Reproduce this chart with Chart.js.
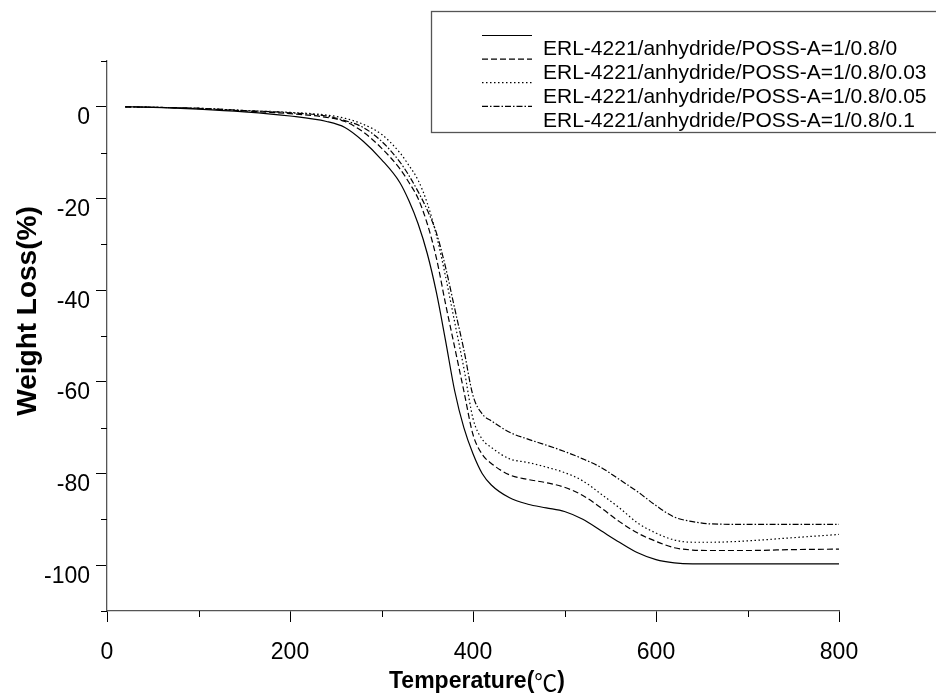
<!DOCTYPE html>
<html>
<head>
<meta charset="utf-8">
<title>TGA</title>
<script src="https://cdn.jsdelivr.net/npm/chart.js@4.4.1/dist/chart.umd.min.js"></script>
<style>
    html, body { margin: 0; padding: 0; background: #fff; }
    #wrap { width: 936px; height: 697px; position: relative; }
</style>
</head>
<body>
<div id="wrap"><canvas id="tgaChart"></canvas></div>
<script>
// 温度 (℃)
const temps = [20, 50, 100, 150, 200, 240, 260, 280, 300, 320, 330, 340, 350, 360, 370, 380, 390, 400, 410, 420,
               440, 460, 480, 500, 520, 540, 560, 580, 600, 620, 640, 660, 700, 750, 800];

// weight loss (%) per sample
const loss0 = [0, -0.1, -0.5, -1.1, -2, -3.2, -4.5, -7.5, -11.5, -16.5, -20.5, -25.5, -32, -40.5, -51, -62, -70, -75.7, -80, -82.5,
               -85.3, -86.7, -87.5, -88.3, -90, -92.5, -95, -97.3, -98.8, -99.5, -99.7, -99.7, -99.7, -99.7, -99.7];
const loss003 = [0, -0.1, -0.4, -0.9, -1.5, -2.3, -3.2, -5.5, -9, -13.5, -16.5, -20, -25.5, -33, -43, -52.5, -62, -71.5, -75.8, -77.8,
                 -80.3, -81.3, -82, -83, -84.8, -87.5, -90.5, -93, -94.8, -96.2, -96.7, -96.8, -96.8, -96.6, -96.5];
const loss005 = [0, -0.1, -0.3, -0.8, -1.2, -1.8, -2.5, -3.8, -6, -10, -12.8, -16, -21, -28, -37, -47, -57, -68, -72.5, -74.3,
                 -76.8, -77.6, -78.6, -79.8, -81.6, -84.5, -87.5, -90.8, -93, -94.5, -95, -95, -94.7, -94, -93.3];
const loss01 = [0, -0.1, -0.3, -0.8, -1.3, -2, -3, -4.5, -7.5, -12, -15, -18.5, -22.5, -27.5, -35, -44, -53, -63, -67, -68.5,
                -71, -72.5, -73.8, -75.2, -76.8, -78.7, -81.3, -84, -87, -89.5, -90.5, -91, -91.1, -91.1, -91.1];

const seriesLabels = [
    'ERL-4221/anhydride/POSS-A=1/0.8/0',
    'ERL-4221/anhydride/POSS-A=1/0.8/0.03',
    'ERL-4221/anhydride/POSS-A=1/0.8/0.05',
    'ERL-4221/anhydride/POSS-A=1/0.8/0.1'
];

// 刻度
const xTicks = [0, 200, 400, 600, 800];
const xMinorTicks = [100, 300, 500, 700];
const yTicks = [0, -20, -40, -60, -80, -100];
const yMinorTicks = [10, -10, -30, -50, -70, -90, -110];

const FONT = '"Liberation Sans", Arial, "Noto Sans CJK SC", sans-serif';
const CJK = '"Noto Sans CJK SC", sans-serif';

function toPoints(values) {
    return values.map((v, i) => ({ x: temps[i], y: v }));
}

function makeSet(label, values, dash) {
    return {
        label: label,
        data: toPoints(values),
        borderColor: '#000',
        borderWidth: 1.2,
        borderDash: dash,
        pointRadius: 0,
        fill: false,
        cubicInterpolationMode: 'monotone'
    };
}

// 次刻度
const minorTickPlugin = {
    id: 'minorTicks',
    afterDraw(chart) {
        const ctx = chart.ctx;
        const xs = chart.scales.x;
        const ys = chart.scales.y;
        const area = chart.chartArea;
        ctx.save();
        ctx.strokeStyle = '#000';
        ctx.lineWidth = 1;
        ctx.beginPath();
        yMinorTicks.forEach(v => {
            const py = Math.round(ys.getPixelForValue(v)) + 0.5;
            ctx.moveTo(area.left - 6, py);
            ctx.lineTo(area.left, py);
        });
        xMinorTicks.forEach(v => {
            const px = Math.round(xs.getPixelForValue(v)) + 0.5;
            ctx.moveTo(px, area.bottom);
            ctx.lineTo(px, area.bottom + 6);
        });
        ctx.stroke();
        ctx.restore();
    }
};

// 轴标题 - y 标题中心比坐标区中心偏上, ℃ 用全角字形
const axisTitlePlugin = {
    id: 'axisTitles',
    afterDraw(chart) {
        const ctx = chart.ctx;
        ctx.save();
        ctx.fillStyle = '#000';
        ctx.textBaseline = 'middle';

        ctx.save();
        ctx.translate(28, 311);
        ctx.rotate(-Math.PI / 2);
        ctx.font = 'bold 28px ' + FONT;
        ctx.textAlign = 'center';
        ctx.fillText('Weight Loss(%)', 0, 0);
        ctx.restore();

        const parts = [
            ['Temperature(', 'bold 23px ' + FONT],
            ['℃', '23px ' + CJK],
            [')', 'bold 23px ' + FONT]
        ];
        let total = 0;
        parts.forEach(p => { ctx.font = p[1]; total += ctx.measureText(p[0]).width; });
        let x = 477 - total / 2;
        ctx.textAlign = 'left';
        parts.forEach(p => {
            ctx.font = p[1];
            ctx.fillText(p[0], x, 682);
            x += ctx.measureText(p[0]).width;
        });
        ctx.restore();
    }
};

// 图例框 (sample line sits half a row above its label)
const legendBoxPlugin = {
    id: 'legendBox',
    afterDraw(chart) {
        const ctx = chart.ctx;
        ctx.save();
        ctx.strokeStyle = '#555';
        ctx.lineWidth = 1.3;
        ctx.strokeRect(431.5, 11.5, 530, 121);
        ctx.font = '21px ' + FONT;
        ctx.textBaseline = 'middle';
        ctx.fillStyle = '#000';
        chart.data.datasets.forEach((ds, i) => {
            const ly = 35.5 + i * 23.6;
            ctx.strokeStyle = '#000';
            ctx.lineWidth = 1.2;
            ctx.setLineDash(ds.borderDash || []);
            ctx.beginPath();
            ctx.moveTo(482, ly);
            ctx.lineTo(532, ly);
            ctx.stroke();
            ctx.setLineDash([]);
            ctx.fillText(ds.label, 543, 49 + i * 24);
        });
        ctx.restore();
    }
};

const ctx = document.getElementById('tgaChart').getContext('2d');
new Chart(ctx, {
    type: 'line',
    data: {
        datasets: [
            makeSet(seriesLabels[0], loss0, []),
            makeSet(seriesLabels[1], loss003, [6, 3]),
            makeSet(seriesLabels[2], loss005, [1.5, 2.5]),
            makeSet(seriesLabels[3], loss01, [6, 2, 1.5, 2])
        ]
    },
    options: {
        responsive: true,
        maintainAspectRatio: false,
        animation: false,
        devicePixelRatio: 1,
        layout: {
            padding: { top: 61, right: 97, left: 0, bottom: 0 }
        },
        plugins: {
            legend: { display: false },
            tooltip: { enabled: false }
        },
        scales: {
            x: {
                type: 'linear',
                min: 0,
                max: 800,
                afterBuildTicks: s => { s.ticks = xTicks.map(v => ({ value: v })); },
                afterFit: s => { s.height = 86; },
                border: { color: '#555', width: 1.3 },
                grid: { drawOnChartArea: false, tickLength: 11, tickColor: '#000' },
                ticks: {
                    color: '#000',
                    padding: 17,
                    maxRotation: 0,
                    font: { family: FONT, size: 23 }
                }
            },
            y: {
                type: 'linear',
                min: -110,
                max: 10,
                afterBuildTicks: s => { s.ticks = yTicks.map(v => ({ value: v })); },
                afterFit: s => { s.width = 107; },
                border: { color: '#555', width: 1.3 },
                grid: { drawOnChartArea: false, tickLength: 11, tickColor: '#000' },
                ticks: {
                    color: '#000',
                    padding: 6,
                    labelOffset: 11,
                    font: { family: FONT, size: 23 }
                }
            }
        }
    },
    plugins: [minorTickPlugin, axisTitlePlugin, legendBoxPlugin]
});
</script>
</body>
</html>
